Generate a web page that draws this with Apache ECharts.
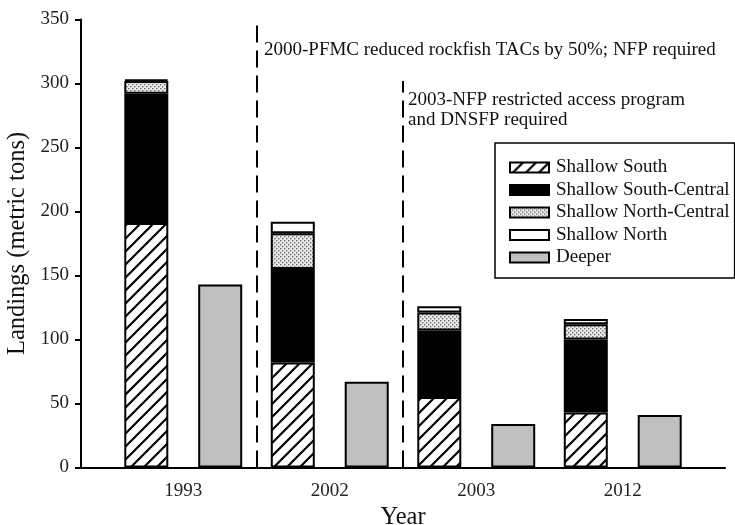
<!DOCTYPE html>
<html>
<head>
<meta charset="utf-8">
<script src="https://cdn.jsdelivr.net/npm/echarts@6/dist/echarts.min.js"></script>
<style>
  html, body { margin: 0; padding: 0; background: #fff; }
  #chart { width: 735px; height: 525px; }
</style>
</head>
<body>
<div id="chart"></div>
<script>
// Rockfish landings by region group (metric tons)
const years = ['1993', '2002', '2003', '2012'];
const shallowSouth = [191, 82, 55, 43];
const shallowSouthCentral = [101, 73, 52, 57];
const shallowNorthCentral = [10, 28, 14, 12];
const shallowNorth = [1, 9, 5, 4];
const deeper = [143, 67, 34, 41];

// Management events, placed on the boundary between year groups
const eventBoundaries = [0.5, 1.5];
const eventTops = [349, 302];
const eventNotes = [
  '2000-PFMC reduced rockfish TACs by 50%; NFP required',
  '2003-NFP restricted access program\nand DNSFP required'
];

const FONT = '"Liberation Serif", "Times New Roman", serif';

// Fill patterns
function hatchPattern() {
  const s = 13;
  const c = document.createElement('canvas');
  c.width = s; c.height = s;
  const g = c.getContext('2d');
  g.fillStyle = '#fff';
  g.fillRect(0, 0, s, s);
  g.strokeStyle = '#000';
  g.lineWidth = 2.2;
  g.beginPath();
  g.moveTo(-2, s + 2); g.lineTo(s + 2, -2);
  g.moveTo(-2, 2); g.lineTo(2, -2);
  g.moveTo(s - 2, s + 2); g.lineTo(s + 2, s - 2);
  g.stroke();
  return c;
}
function dotPattern() {
  const s = 4;
  const c = document.createElement('canvas');
  c.width = s; c.height = s;
  const g = c.getContext('2d');
  g.fillStyle = '#ececec';
  g.fillRect(0, 0, s, s);
  g.fillStyle = '#6a6a6a';
  g.fillRect(0, 0, 1.4, 1.4);
  g.fillRect(2, 2, 1.4, 1.4);
  return c;
}

const hatch = { image: hatchPattern(), repeat: 'repeat' };
const dots = { image: dotPattern(), repeat: 'repeat' };

const chart = echarts.init(document.getElementById('chart'), null, { renderer: 'canvas' });

const barBase = {
  type: 'bar',
  xAxisIndex: 1,
  yAxisIndex: 1,
  barWidth: 44,
  barGap: '68%',
  itemStyle: { borderColor: '#000', borderWidth: 2 },
  emphasis: { disabled: true }
};

function stackSeries(name, data, color) {
  return Object.assign({}, barBase, {
    name: name,
    stack: 'shallow',
    data: data,
    itemStyle: { color: color, borderColor: '#000', borderWidth: 2 }
  });
}

const dividerLines = eventBoundaries.map((b, i) => [
  { coord: [b, 0] },
  { coord: [b, eventTops[i]] }
]);

chart.setOption({
  animation: false,
  backgroundColor: '#fff',
  textStyle: { fontFamily: FONT },
  grid: [
    { left: 81, right: 10, top: 19.5, bottom: 57.5, containLabel: false, outerBoundsMode: 'none' },
    { left: 110, right: 39, top: 19.5, bottom: 57.5, containLabel: false, outerBoundsMode: 'none' }
  ],
  xAxis: [
    {
      gridIndex: 0, type: 'value', min: 0, max: 1,
      axisLine: { show: true, lineStyle: { color: '#000', width: 2 } },
      axisTick: { show: false }, axisLabel: { show: false }, splitLine: { show: false },
      name: 'Year', nameLocation: 'middle', nameGap: 38,
      nameTextStyle: { fontFamily: FONT, fontSize: 24.5, color: '#111' }
    },
    {
      gridIndex: 1, type: 'category', data: years,
      axisLine: { show: false }, axisTick: { show: false },
      axisLabel: { fontFamily: FONT, fontSize: 19, color: '#222', margin: 14 }
    },
    {
      gridIndex: 1, type: 'value', min: -0.5, max: 3.5, show: false
    }
  ],
  yAxis: [
    {
      gridIndex: 0, type: 'value', min: 0, max: 350, interval: 50,
      axisLine: { show: true, lineStyle: { color: '#000', width: 2 } },
      axisTick: { show: true, inside: false, length: 6, lineStyle: { color: '#000', width: 2 } },
      axisLabel: { fontFamily: FONT, fontSize: 19, color: '#222', margin: 12 },
      splitLine: { show: false },
      name: 'Landings (metric tons)', nameLocation: 'middle', nameGap: 50,
      nameTextStyle: { fontFamily: FONT, fontSize: 24.5, color: '#111' }
    },
    {
      gridIndex: 1, type: 'value', min: 0, max: 350, show: false
    }
  ],
  legend: {
    orient: 'vertical',
    left: 495, top: 143,
    padding: [15, 5, 11, 14],
    itemWidth: 39, itemHeight: 10, itemGap: 3.5,
    borderColor: '#000', borderWidth: 1.5,
    selectedMode: false,
    icon: 'rect',
    textStyle: { fontFamily: FONT, fontSize: 19, color: '#111', padding: [0, 0, 0, 2] },
    data: ['Shallow South', 'Shallow South-Central', 'Shallow North-Central', 'Shallow North', 'Deeper']
  },
  series: [
    stackSeries('Shallow South', shallowSouth, hatch),
    stackSeries('Shallow South-Central', shallowSouthCentral, '#000'),
    stackSeries('Shallow North-Central', shallowNorthCentral, dots),
    stackSeries('Shallow North', shallowNorth, '#fff'),
    Object.assign({}, barBase, {
      name: 'Deeper',
      data: deeper,
      itemStyle: { color: '#c0c0c0', borderColor: '#000', borderWidth: 2 }
    }),
    {
      type: 'line',
      xAxisIndex: 2,
      yAxisIndex: 1,
      data: [],
      silent: true,
      markLine: {
        silent: true,
        symbol: 'none',
        label: { show: false },
        lineStyle: { color: '#000', width: 2, type: [17, 8] },
        data: dividerLines
      }
    }
  ],
  graphic: [
    {
      type: 'text', x: 264, y: 50,
      style: { text: eventNotes[0], font: '19px ' + FONT, fill: '#111', verticalAlign: 'middle' }
    },
    {
      type: 'text', x: 408, y: 90,
      style: { text: eventNotes[1], font: '19px ' + FONT, fill: '#111', verticalAlign: 'top', lineHeight: 20 }
    }
  ]
});
</script>
</body>
</html>
